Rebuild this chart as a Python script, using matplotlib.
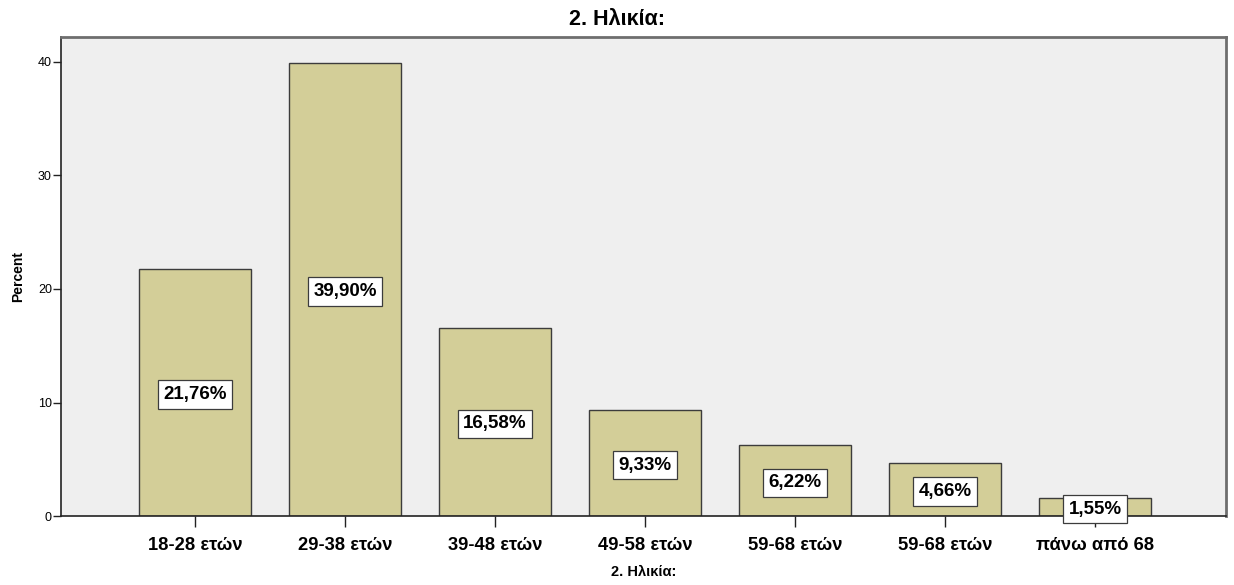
import matplotlib
matplotlib.use("Agg")
import matplotlib.pyplot as plt

plt.rcParams['font.family'] = ['Liberation Sans', 'DejaVu Sans']

categories = ["18-28 ετών", "29-38 ετών", "39-48 ετών", "49-58 ετών",
              "59-68 ετών", "59-68 ετών", "πάνω από 68"]
percent = [21.76, 39.90, 16.58, 9.33, 6.22, 4.66, 1.55]
labels = ["21,76%", "39,90%", "16,58%", "9,33%", "6,22%", "4,66%", "1,55%"]
y_ticks = [0, 10, 20, 30, 40]

fig = plt.figure(figsize=(12.34, 5.85), dpi=100)
ax = fig.add_axes([0.0494, 0.1179, 0.9441, 0.8189])
ax.set_facecolor('#EFEFEF')

x = list(range(len(categories)))
ax.bar(x, percent, width=0.75, color='#D3CE98', edgecolor='#3C3C3C',
       linewidth=1.0, zorder=2)

for xi, v, lab in zip(x, percent, labels):
    ax.text(xi, v / 2, lab, ha='center', va='center_baseline', fontsize=13.5,
            fontweight='bold', color='black', zorder=3,
            bbox=dict(boxstyle='square,pad=0.3', facecolor='white',
                      edgecolor='#3C3C3C', linewidth=0.9))

ax.set_xlim(-0.893, 6.873)
ax.set_ylim(0, 42.2)
ax.set_yticks(y_ticks)
ax.set_yticklabels([str(t) for t in y_ticks], fontsize=9)
ax.set_xticks(x)
ax.set_xticklabels(categories, fontsize=13.2, fontweight='bold')
ax.tick_params(axis='y', length=5.5, width=1, pad=1, color='#222222')
ax.tick_params(axis='x', length=8, width=1, pad=7, color='#222222')

for side in ['left', 'bottom']:
    ax.spines[side].set_color('#222222')
    ax.spines[side].set_linewidth(1.2)
for side in ['top', 'right']:
    ax.spines[side].set_color('#6E6E6E')
    ax.spines[side].set_linewidth(2.0)

ax.set_ylabel("Percent", fontsize=10, fontweight='bold', labelpad=9)
ax.set_xlabel("2. Ηλικία:", fontsize=10.5, fontweight='bold', labelpad=8)
fig.suptitle("2. Ηλικία:", x=0.5, y=0.967, va='center', fontsize=15.5,
             fontweight='bold')

fig.savefig("out.png", dpi=100)
